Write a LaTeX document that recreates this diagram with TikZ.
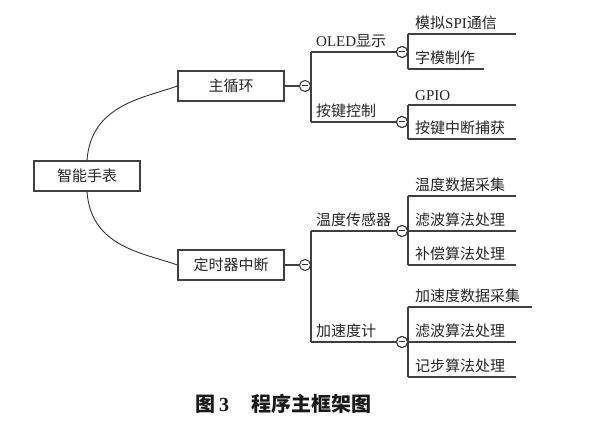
\documentclass[tikz,border=0pt]{standalone}
\usepackage{fontspec}
\setmainfont{Liberation Serif}
\newfontfamily\cjk{Noto Sans CJK SC}
\newcommand\en[1]{{\rmfamily #1}}
\usetikzlibrary{positioning}
\tikzset{
  box/.style={rectangle,draw=black!75,line width=1.3pt,minimum width=106pt,minimum height=30pt,font=\cjk\fontsize{15}{18}\selectfont,text=black!85},
  fold/.style={circle,draw=black!80,line width=1pt,minimum size=11pt,inner sep=0pt,fill=white,
    path picture={\draw[line width=1pt] ([xshift=2.5pt]path picture bounding box.west) -- ([xshift=-2.5pt]path picture bounding box.east);}},
  item/.style={anchor=south west,inner xsep=5pt,inner ysep=4pt,font=\cjk\fontsize{15}{18}\selectfont,text=black!85},
  leaf/.style={item,inner xsep=7pt},
  branch/.style={draw=black!75,line width=1.25pt},
  link/.style={draw=black!80,line width=0.9pt}
}
\begin{document}
\begin{tikzpicture}[x=1pt,y=-1pt]
\useasboundingbox (0,0) rectangle (589,427);
\node[box] (watch) at (87,176) {智能手表};
\node[box] (loop) at (231,86) {主循环};
\node[box] (timer) at (231,265) {定时器中断};
\draw[link] (watch.north) .. controls +(4,-56) and +(-33,12) .. (loop.west);
\draw[link] (watch.south) .. controls +(4,56) and +(-33,-12) .. (timer.west);

\node[fold] (loopfold) at (305,86) {};
\node[fold] (oledfold) at (402,52) {};
\node[fold] (keyfold) at (402,122) {};
\draw[branch] (loop) -- (loopfold);
\draw[branch] (loopfold.east |- oledfold) -- (loopfold.east |- keyfold);
\draw[branch] (loopfold.east |- oledfold) -- (oledfold.west);
\draw[branch] (loopfold.east |- keyfold) -- (keyfold.west);
\node[item] (oled) at (loopfold.east |- oledfold) {\en{OLED}显示};
\node[item] (key) at (loopfold.east |- keyfold) {按键控制};

\node[leaf] (spi) at (408,34) {模拟\en{SPI}通信};
\node[leaf] (glyph) at (408,69) {字模制作};
\node[leaf] (gpio) at (408,105) {\en{GPIO}};
\node[leaf] (capture) at (408,139) {按键中断捕获};
\draw[branch] (spi.south west) -- (glyph.south west);
\draw[branch] (gpio.south west) -- (capture.south west);
\draw[branch] (spi.south west) -- ++(108,0);
\draw[branch] (glyph.south west) -- ++(76,0);
\draw[branch] (gpio.south west) -- ++(108,0);
\draw[branch] (capture.south west) -- ++(108,0);
\node[fold] at (oledfold) {};
\node[fold] at (keyfold) {};

\node[fold] (timerfold) at (305,265) {};
\node[fold] (tempfold) at (402,231) {};
\node[fold] (accfold) at (402,342) {};
\draw[branch] (timer) -- (timerfold);
\draw[branch] (timerfold.east |- tempfold) -- (timerfold.east |- accfold);
\draw[branch] (timerfold.east |- tempfold) -- (tempfold.west);
\draw[branch] (timerfold.east |- accfold) -- (accfold.west);
\node[item] (temp) at (timerfold.east |- tempfold) {温度传感器};
\node[item] (acc) at (timerfold.east |- accfold) {加速度计};

\node[leaf] (tempread) at (408,196) {温度数据采集};
\node[leaf] (tempfilter) at (408,231) {滤波算法处理};
\node[leaf] (tempfix) at (408,265) {补偿算法处理};
\node[leaf] (accread) at (408,307) {加速度数据采集};
\node[leaf] (accfilter) at (408,342) {滤波算法处理};
\node[leaf] (accstep) at (408,377) {记步算法处理};
\draw[branch] (tempread.south west) -- (tempfix.south west);
\draw[branch] (accread.south west) -- (accstep.south west);
\draw[branch] (tempread.south west) -- ++(108,0);
\draw[branch] (tempfilter.south west) -- ++(108,0);
\draw[branch] (tempfix.south west) -- ++(108,0);
\draw[branch] (accread.south west) -- ++(124,0);
\draw[branch] (accfilter.south west) -- ++(108,0);
\draw[branch] (accstep.south west) -- ++(108,0);
\node[fold] at (tempfold) {};
\node[fold] at (accfold) {};

\node[font=\cjk\bfseries\fontsize{20}{24}\selectfont,text=black!90] (caption) at (283,404) {图\hspace{4pt}\en{3}\hspace{22pt}程序主框架图};
\end{tikzpicture}
\end{document}
